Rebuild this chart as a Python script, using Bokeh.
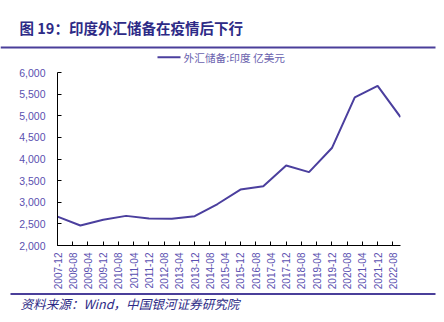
from bokeh.plotting import figure
from bokeh.layouts import column
from bokeh.models import FixedTicker, NumeralTickFormatter, Range1d, ColumnDataSource
from bokeh.core.properties import value
from bokeh.embed import file_html
from bokeh.resources import INLINE
import math

# ---- data ----
dates = ["2007-12", "2008-12", "2009-12", "2010-12", "2011-12", "2012-12", "2013-12",
         "2014-12", "2015-12", "2016-12", "2017-12", "2018-12", "2019-12", "2020-12",
         "2021-12", "2022-12"]
reserves = [2669, 2463, 2594, 2685, 2623, 2616, 2678, 2959, 3294, 3370, 3849, 3696,
            4253, 5425, 5692, 4968]
tick_labels = ["2007-12", "2008-08", "2009-04", "2009-12", "2010-08", "2011-04",
               "2011-12", "2012-08", "2013-04", "2013-12", "2014-08", "2015-04",
               "2015-12", "2016-08", "2017-04", "2017-12", "2018-08", "2019-04",
               "2019-12", "2020-08", "2021-04", "2021-12", "2022-08"]
y_ticks = [2000, 2500, 3000, 3500, 4000, 4500, 5000, 5500, 6000]

title_text = "图 19：印度外汇储备在疫情后下行"
legend_text = "外汇储备:印度 亿美元"
source_text = "资料来源：Wind，中国银河证券研究院"


def month_index(s):
    y, m = s.split("-")
    return (int(y) - 2007) * 12 + int(m) - 12


xs = [month_index(d) for d in dates]
tick_pos = [month_index(t) for t in tick_labels]

LINE = "#4B3F9E"
LABEL = "#5A50B0"
NAVY = "#2D2A86"
RULE = "#4A3F9A"
W = 444


def blank(h):
    f = figure(width=W, height=h, output_backend="svg", toolbar_location=None,
               x_axis_type=None, y_axis_type=None, min_border=0, frame_align=False,
               x_range=Range1d(0, W), y_range=Range1d(h, 0))
    f.outline_line_color = None
    f.grid.grid_line_color = None
    return f


# ---- header: title, rule, legend ----
top = blank(64)
top.text(x=[19], y=[27], text=[title_text], text_font=value("Noto Sans CJK SC"),
         text_font_size="14.5px", text_font_style="bold", text_color=NAVY,
         text_baseline="middle", text_align="left")
top.quad(left=[0], right=[435], top=[46], bottom=[48], fill_color=RULE, line_color=None)
top.segment(x0=[157], y0=[56.7], x1=[180], y1=[56.7], line_color=LINE, line_width=2)
top.text(x=[183], y=[57], text=[legend_text], text_font=value("Noto Sans CJK SC"),
         text_font_size="10.7px", text_color="#6A62AE",
         text_baseline="middle", text_align="left")

# ---- main chart ----
p = figure(width=W, height=228, output_backend="svg", toolbar_location=None,
           min_border_left=57, min_border_right=44, min_border_top=8,
           min_border_bottom=47, frame_align=False,
           x_range=Range1d(0, 180), y_range=Range1d(2000, 6000))
p.outline_line_color = None
p.grid.grid_line_color = None

src = ColumnDataSource(dict(x=xs, y=reserves))
p.line("x", "y", source=src, line_color=LINE, line_width=2)

p.xaxis.ticker = FixedTicker(ticks=tick_pos)
p.xaxis.major_label_overrides = {pos: lab for pos, lab in zip(tick_pos, tick_labels)}
p.xaxis.major_label_orientation = math.pi / 2
p.yaxis.ticker = FixedTicker(ticks=y_ticks)
p.yaxis.formatter = NumeralTickFormatter(format="0,0")

for ax in (p.xaxis, p.yaxis):
    ax.axis_line_color = "black"
    ax.axis_line_width = 1
    ax.major_tick_line_color = "black"
    ax.major_tick_in = 4
    ax.major_tick_out = 0
    ax.minor_tick_line_color = None
    ax.major_label_text_color = LABEL
    ax.major_label_text_font = "Liberation Sans"
p.yaxis.major_label_text_font_size = "10.5px"
p.yaxis.major_label_standoff = 12
p.xaxis.major_label_text_font_size = "10px"
p.xaxis.major_label_standoff = 7

# ---- footer: rule and source ----
bottom = blank(30)
bottom.quad(left=[10], right=[435], top=[0.5], bottom=[2.5], fill_color=RULE, line_color=None)
bottom.text(x=[20], y=[11], text=[source_text], text_font=value("Noto Sans CJK SC"),
            text_font_size="12.6px", text_font_style="italic", text_color=NAVY,
            text_baseline="middle", text_align="left")

layout = column(top, p, bottom, spacing=0)
open("out.html", "w").write(file_html(layout, INLINE))
